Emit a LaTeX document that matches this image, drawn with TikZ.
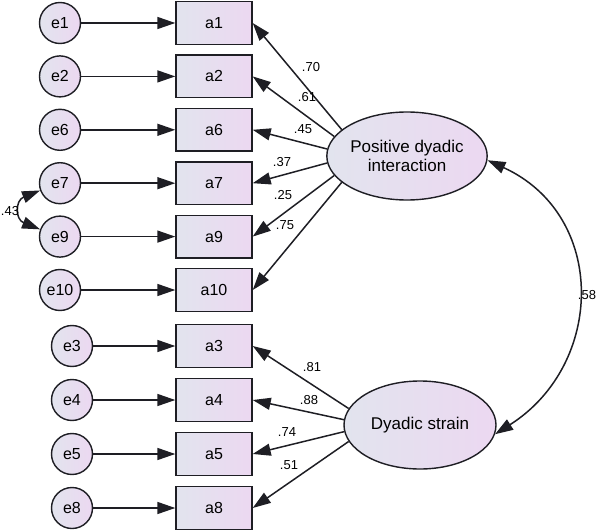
\documentclass[tikz,border=0pt]{standalone}
\usepackage{fontspec}
\setmainfont{Liberation Sans}
\usepackage{tikz}
\usetikzlibrary{arrows.meta,positioning,shapes.geometric}
\definecolor{fillL}{HTML}{E2E4EE}
\definecolor{fillR}{HTML}{ECD8F1}
\definecolor{edgeC}{HTML}{1E1E24}

\begin{document}
\begin{tikzpicture}[x=1pt,y=1pt,font=\fontsize{16}{18}\selectfont,
	shade/.style={draw=edgeC,line width=1.4pt,left color=fillL,right color=fillR},
	err/.style={shade,circle,minimum size=41pt,inner sep=0pt},
	obs/.style={shade,rectangle,minimum width=76pt,minimum height=42.5pt,inner sep=0pt},
	lat/.style={shade,ellipse,minimum width=152pt,minimum height=88pt,inner sep=0pt,
		align=center,font=\fontsize{17}{19}\selectfont},
	coef/.style={font=\fontsize{13}{15}\selectfont,inner sep=0pt},
	arr/.style={line width=1.5pt,color=edgeC,-{Triangle[length=18pt,width=12pt]}},
	cov/.style={line width=1.5pt,color=edgeC,{Triangle[length=18pt,width=12pt]}-{Triangle[length=18pt,width=12pt]}}]
	\useasboundingbox (0,0) rectangle (597,-532);

	% first factor
	\node[err,name=e1] at (60,-23) {e1};
	\node[err,name=e2, below of=e1, node distance=53.4pt]{e2};
	\node[err,name=e6, below of=e2, node distance=53.4pt]{e6};
	\node[err,name=e7, below of=e6, node distance=53.4pt]{e7};
	\node[err,name=e9, below of=e7, node distance=53.4pt]{e9};
	\node[err,name=e10, below of=e9, node distance=53.4pt]{e10};
	\node[obs,name=a1] at (214,-23) {a1};
	\node[obs,name=a2, below of=a1, node distance=53.4pt]{a2};
	\node[obs,name=a6, below of=a2, node distance=53.4pt]{a6};
	\node[obs,name=a7, below of=a6, node distance=53.4pt]{a7};
	\node[obs,name=a9, below of=a7, node distance=53.4pt]{a9};
	\node[obs,name=a10, below of=a9, node distance=53.4pt]{a10};
	\node[lat,name=pdi] at (407,-156) {Positive dyadic\\interaction};

	% second factor
	\node[err,name=e3] at (72,-346) {e3};
	\node[err,name=e4, below of=e3, node distance=54pt]{e4};
	\node[err,name=e5, below of=e4, node distance=54pt]{e5};
	\node[err,name=e8, below of=e5, node distance=54pt]{e8};
	\node[obs,name=a3] at (214,-346) {a3};
	\node[obs,name=a4, below of=a3, node distance=54pt]{a4};
	\node[obs,name=a5, below of=a4, node distance=54pt]{a5};
	\node[obs,name=a8, below of=a5, node distance=54pt]{a8};
	\node[lat,name=ds] at (420,-425) {Dyadic strain};

	\path[arr] (e1) edge (a1)
		(e2) edge (a2)
		(e6) edge (a6)
		(e7) edge (a7)
		(e9) edge (a9)
		(e10) edge (a10)
		(e3) edge (a3)
		(e4) edge (a4)
		(e5) edge (a5)
		(e8) edge (a8)
		(pdi.158.7) edge (a1.east)
		(pdi.165.6) edge (a2.east)
		(pdi.175.5) edge (a6.east)
		(pdi.185) edge (a7.east)
		(pdi.195) edge (a9.east)
		(pdi.202) edge (a10.east)
		(ds.167.6) edge (a3.east)
		(ds.176) edge (a4.east)
		(ds.185) edge (a5.east)
		(ds.193) edge (a8.east);

	% covariances
	\draw[cov] (e7.200) .. controls +(-25,-10) and +(-25,10) .. (e9.160);
	\draw[cov] (pdi.-3) .. controls +(120,-55) and +(110,70) .. (ds.-7);

	\node[coef,name=c70] at (311,-67) {.70};
	\node[coef,name=c61] at (307,-97) {.61};
	\node[coef,name=c45] at (303,-129) {.45};
	\node[coef,name=c37] at (282,-162) {.37};
	\node[coef,name=c25] at (283,-195) {.25};
	\node[coef,name=c75] at (285,-225) {.75};
	\node[coef,name=c81] at (312,-367) {.81};
	\node[coef,name=c88] at (309,-400) {.88};
	\node[coef,name=c74] at (287,-432) {.74};
	\node[coef,name=c51] at (289,-465) {.51};
	\node[coef,name=c43] at (10,-211) {.43};
	\node[coef,name=c58] at (587,-295) {.58};
\end{tikzpicture}
\end{document}
